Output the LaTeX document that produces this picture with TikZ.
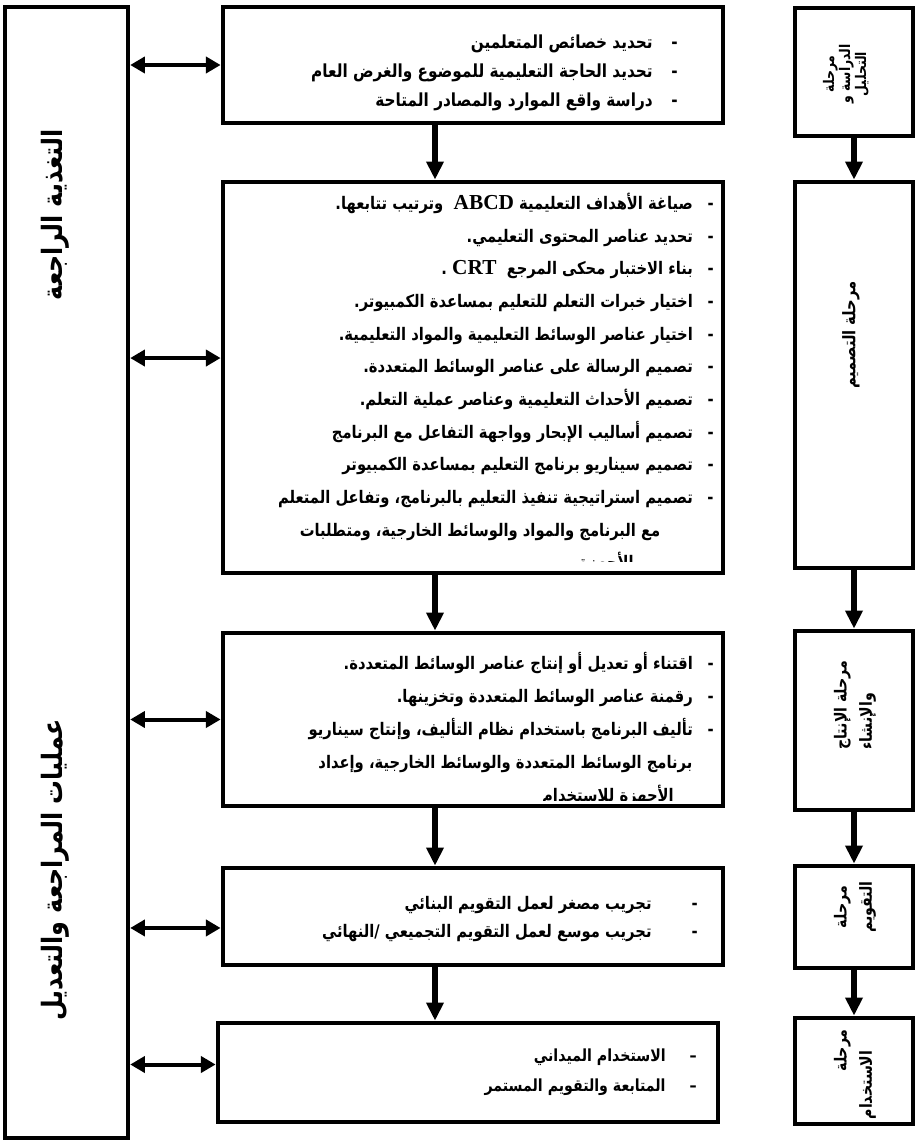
\documentclass[tikz,border=0pt]{standalone}
\usepackage{fontspec}
\usetikzlibrary{arrows.meta,positioning,fit}
\TeXXeTstate=1
\newfontfamily\arabicfont[Script=Arabic,FakeStretch=0.85]{DejaVu Sans}
\newfontfamily\latinfont{Liberation Serif}
\newcommand\itm[2][9pt]{\beginR -\hspace{#1}#2\endR}
\newcommand\cnt[2][14pt]{\beginR\hspace*{#1}#2\endR}
\newcommand\lat[1]{\beginL{\latinfont\bfseries\fontsize{16}{16}\selectfont #1}\endL}

\begin{document}
\begin{tikzpicture}[x=0.75pt,y=-0.75pt,
  box/.style={draw,line width=3.6pt,inner sep=0pt},
  txt/.style 2 args={font=\arabicfont\bfseries\fontsize{#1}{#2}\selectfont,align=right,inner sep=0pt,anchor=north east},
  lbl/.style 2 args={font=\arabicfont\bfseries\fontsize{#1}{#2}\selectfont,rotate=90,align=center,inner sep=0pt},
  flow/.style={line width=4.5pt,-{Triangle[length=13.5pt,width=12.5pt]}},
  link/.style={line width=3pt,{Triangle[length=11pt,width=12pt]}-{Triangle[length=11pt,width=12pt]}}]
  \useasboundingbox (0,0) rectangle (917,1144);
  % feedback column
  \node[box,line width=3.3pt,fit={(5,7) (128,1138)}] (fb) {};
  \node[lbl={21}{24}] (fb1) at (55,215) {\beginR التغذية الراجعة\endR};
  \node[lbl={21}{24}] (fb2) at (55,870) {\beginR عمليات المراجعة والتعديل\endR};
  % tasks
  \node[box,fit={(223,7) (723,123)}] (b1) {};
  \node[box,fit={(223,182) (723,573)}] (b2) {};
  \node[box,fit={(223,633) (723,806)}] (b3) {};
  \node[box,fit={(223,868) (723,965)}] (b4) {};
  \node[box,fit={(218,1023) (718,1122)}] (b5) {};
  % stages
  \node[box,fit={(795,8) (913,136)}] (r1) {};
  \node[box,fit={(795,182) (913,568)}] (r2) {};
  \node[box,fit={(795,631) (913,810)}] (r3) {};
  \node[box,fit={(795,866) (913,968)}] (r4) {};
  \node[box,fit={(795,1018) (913,1124)}] (r5) {};
  % task texts
  \node[txt={13.5}{21.75}] (t1) at (678,35) {\itm[14pt]{تحديد خصائص المتعلمين}\\
    \itm[14pt]{تحديد الحاجة التعليمية للموضوع والغرض العام}\\
    \itm[14pt]{دراسة واقع الموارد والمصادر المتاحة}};
  \begin{scope}
    \clip (226,185) rectangle (720,561);
    \node[txt={13}{24.5}] (t2) at (714,193) {\itm[11pt]{صياغة الأهداف التعليمية \lat{ABCD}\ \ وترتيب تتابعها.}\\
      \itm[11pt]{تحديد عناصر المحتوى التعليمي.}\\
      \itm[11pt]{بناء الاختبار محكى المرجع \ \lat{CRT} .}\\
      \itm[11pt]{اختيار خبرات التعلم للتعليم بمساعدة الكمبيوتر.}\\
      \itm[11pt]{اختيار عناصر الوسائط التعليمية والمواد التعليمية.}\\
      \itm[11pt]{تصميم الرسالة على عناصر الوسائط المتعددة.}\\
      \itm[11pt]{تصميم الأحداث التعليمية وعناصر عملية التعلم.}\\
      \itm[11pt]{تصميم أساليب الإبحار وواجهة التفاعل مع البرنامج}\\
      \itm[11pt]{تصميم سيناريو برنامج التعليم بمساعدة الكمبيوتر}\\
      \itm[11pt]{تصميم استراتيجية تنفيذ التعليم بالبرنامج، وتفاعل المتعلم}\\
      \cnt[40pt]{مع البرنامج والمواد والوسائط الخارجية، ومتطلبات}\\
      \cnt[60pt]{الأجهزة.}};
  \end{scope}
  \begin{scope}
    \clip (226,636) rectangle (720,800);
    \node[txt={13}{24.75}] (t3) at (714,652) {\itm[11pt]{اقتناء أو تعديل أو إنتاج عناصر الوسائط المتعددة.}\\
      \itm[11pt]{رقمنة عناصر الوسائط المتعددة وتخزينها.}\\
      \itm[11pt]{تأليف البرنامج باستخدام نظام التأليف، وإنتاج سيناريو}\\
      \cnt[16pt]{برنامج الوسائط المتعددة والوسائط الخارجية، وإعداد}\\
      \cnt[30pt]{الأجهزة للاستخدام}};
  \end{scope}
  \node[txt={13}{21}] (t4) at (698,896) {\itm[30pt]{تجريب مصغر لعمل التقويم البنائي}\\
    \itm[30pt]{تجريب موسع لعمل التقويم التجميعي /النهائي}};
  \node[txt={12.5}{22}] (t5) at (697,1049) {\beginR –\hspace{18pt}الاستخدام الميداني\endR\\
    \beginR –\hspace{18pt}المتابعة والتقويم المستمر\endR};
  % stage texts
  \node[lbl={11}{12}] (s1) at (846,74) {\beginR مرحلة\endR\\ \beginR الدراسة و\endR\\ \beginR التحليل\endR};
  \node[lbl={13}{17}] (s2) at (851,335) {\beginR مرحلة التصميم\endR};
  \node[lbl={12.5}{19},align=left] (s3) at (855,705) {\beginR مرحلة الإنتاج\endR\\ \beginR والإنشاء\endR};
  \node[lbl={12.5}{19}] (s4) at (855,907) {\beginR مرحلة\endR\\ \beginR التقويم\endR};
  \begin{scope}
    \clip (798,1021) rectangle (910,1120);
    \node[lbl={12.5}{19},align=right,anchor=east] (s5) at (855,1029) {\beginR مرحلة\endR\\ \beginR\hspace*{16pt}الاستخدام\endR};
  \end{scope}
  % arrows
  \coordinate (mx) at (435,0);
  \foreach \a/\b in {b1/b2,b2/b3,b3/b4,b4/b5}
    \draw[flow] (\a.south -| mx) -- (\b.north -| mx);
  \foreach \a/\b in {r1/r2,r2/r3,r3/r4,r4/r5}
    \draw[flow] (\a.south) -- (\b.north);
  \foreach \b/\s in {b1/0,b2/14.6,b3/0,b4/-8.6,b5/6}{
    \path ([yshift=\s pt]\b.west) coordinate (p);
    \draw[link] (p -| fb.east) -- (p);
  }
\end{tikzpicture}
\end{document}
